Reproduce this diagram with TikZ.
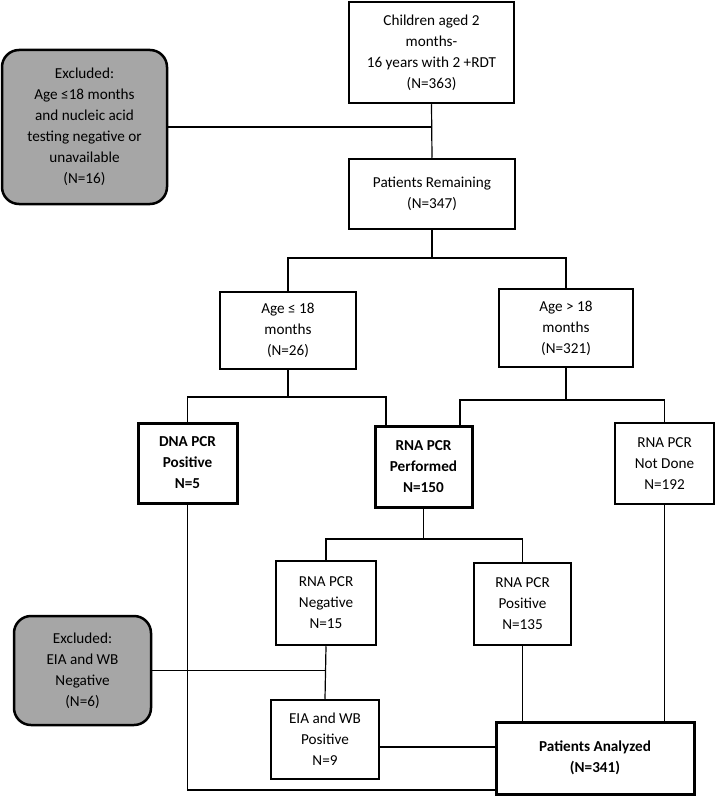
\documentclass[tikz,border=0pt]{standalone}
\usepackage{fontspec}
\setmainfont{Carlito}
\usepackage{xcolor}
\usetikzlibrary{positioning}
\definecolor{excludedGray}{HTML}{A6A6A6}

\begin{document}
\begin{tikzpicture}[x=1pt, y=1pt,
        stage/.style={draw, line width=2.5pt, fill=white, align=center, inner sep=0pt,
            font=\fontsize{15.2}{21}\selectfont},
        keystage/.style={stage, line width=3pt, font=\fontsize{15.2}{21}\selectfont\bfseries},
        excluded/.style={stage, fill=excludedGray, rounded corners=17pt},
        link/.style={draw, line width=1.2pt}]
    \useasboundingbox (0,0) rectangle (717,-797);

    % screening and first exclusion
    \node[stage, minimum width=165, minimum height=101] (screened) at (431.5,-52.5)
        {Children aged 2\\ months-\\ 16 years with 2 +RDT\\ (N=363)};
    \node[excluded, minimum width=165, minimum height=154] (excludedNAT) at (84.5,-127)
        {Excluded:\\ Age ≤18 months\\ and nucleic acid\\ testing negative or\\ unavailable\\ (N=16)};
    \node[stage, minimum width=166, minimum height=70] (remaining) at (432,-194)
        {Patients Remaining\\ (N=347)};

    % age groups
    \node[stage, minimum width=136, minimum height=77] (young) at (288,-330.5)
        {Age ≤ 18\\ months\\ (N=26)};
    \node[stage, minimum width=134, minimum height=78] (older) at (566,-328)
        {Age > 18\\ months\\ (N=321)};

    % testing
    \node[keystage, minimum width=99, minimum height=80] (dnaPos) at (187.5,-463)
        {DNA PCR\\ Positive\\ N=5};
    \node[keystage, minimum width=97, minimum height=81] (rnaDone) at (423.5,-466.5)
        {RNA PCR\\ Performed\\ N=150};
    \node[stage, minimum width=99, minimum height=81] (rnaSkip) at (664.5,-463.5)
        {RNA PCR\\ Not Done\\ N=192};
    \node[stage, minimum width=100, minimum height=84] (rnaNeg) at (326,-603)
        {RNA PCR\\ Negative\\ N=15};
    \node[stage, minimum width=97, minimum height=82] (rnaPos) at (522.5,-604)
        {RNA PCR\\ Positive\\ N=135};
    \node[excluded, minimum width=137, minimum height=109] (excludedWB) at (82.5,-670.5)
        {Excluded:\\ EIA and WB\\ Negative\\ (N=6)};
    \node[stage, minimum width=108, minimum height=79] (eiaPos) at (325,-739.5)
        {EIA and WB\\ Positive\\ N=9};
    \node[keystage, minimum width=198, minimum height=72] (analyzed) at (595,-758)
        {Patients Analyzed\\ (N=341)};

    % connectors
    \coordinate (natJoin) at (screened.south |- excludedNAT.east);
    \path[link] (screened.south) -- (remaining.north);
    \path[link] (excludedNAT.east) -- (natJoin);

    \coordinate (ageSplit) at (remaining.south |- 0,-258);
    \path[link] (remaining.south) -- (ageSplit);
    \path[link] (young.north) |- (ageSplit) -| (older.north);

    \coordinate (youngSplit) at (young.south |- 0,-397);
    \coordinate (doneLeft) at ([xshift=-37.5]rnaDone.north);
    \coordinate (doneRight) at ([xshift=36.5]rnaDone.north);
    \path[link] (young.south) -- (youngSplit);
    \path[link] (dnaPos.north) |- (youngSplit) -| (doneLeft);

    \coordinate (olderSplit) at (older.south |- 0,-400);
    \path[link] (older.south) -- (olderSplit);
    \path[link] (doneRight) |- (olderSplit) -| (rnaSkip.north);

    \coordinate (rnaSplit) at (rnaDone.south |- 0,-539);
    \path[link] (rnaDone.south) -- (rnaSplit);
    \path[link] (rnaNeg.north) |- (rnaSplit) -| (rnaPos.north);

    \coordinate (wbJoin) at (rnaNeg.south |- excludedWB.east);
    \path[link] (rnaNeg.south) -- (eiaPos.north);
    \path[link] (excludedWB.east) -- (wbJoin);

    \coordinate (dnaIn) at ([yshift=-32]analyzed.west);
    \coordinate (eiaOut) at ([yshift=-7.5]eiaPos.east);
    \path[link] (dnaPos.south) |- (dnaIn);
    \path[link] (eiaOut) -- (eiaOut -| analyzed.west);
    \path[link] (rnaPos.south) -- (rnaPos.south |- analyzed.north);
    \path[link] (rnaSkip.south) -- (rnaSkip.south |- analyzed.north);
\end{tikzpicture}
\end{document}
